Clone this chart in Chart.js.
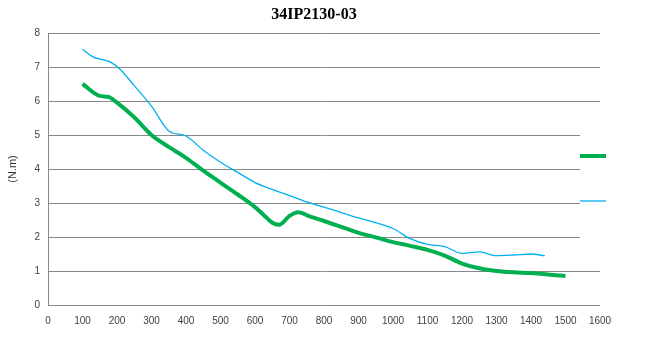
<!DOCTYPE html>
<html>
<head>
<meta charset="utf-8">
<script src="https://cdn.jsdelivr.net/npm/chart.js@4/dist/chart.umd.min.js"></script>
<style>
  html, body { margin: 0; padding: 0; background: #fff; }
  #wrap { width: 648px; height: 355px; }
</style>
</head>
<body>
<div id="wrap"><canvas id="myChart" width="648" height="355"></canvas></div>
<script>
// chart data
const chartTitle = '34IP2130-03';
const yTitle = '(N.m)';

const greenSpeed = [100, 150, 175, 200, 250, 300, 350, 400, 450, 500, 550, 600, 625, 650, 670, 700, 725, 760, 800, 850, 900, 950, 1000, 1050, 1100, 1150, 1200, 1250, 1300, 1350, 1400, 1450, 1500];
const greenTorque = [6.5, 6.15, 6.12, 5.95, 5.52, 5.0, 4.65, 4.33, 3.95, 3.6, 3.25, 2.88, 2.65, 2.42, 2.36, 2.62, 2.73, 2.6, 2.47, 2.3, 2.12, 1.99, 1.85, 1.74, 1.62, 1.45, 1.22, 1.08, 1.0, 0.96, 0.94, 0.9, 0.85];

const blueSpeed = [100, 130, 180, 210, 250, 300, 350, 400, 450, 500, 550, 600, 650, 700, 750, 800, 850, 900, 950, 1000, 1050, 1100, 1150, 1200, 1250, 1300, 1350, 1400, 1440];
const blueTorque = [7.52, 7.3, 7.15, 6.92, 6.45, 5.85, 5.12, 4.97, 4.55, 4.2, 3.9, 3.6, 3.4, 3.22, 3.03, 2.88, 2.72, 2.56, 2.42, 2.25, 1.95, 1.78, 1.72, 1.52, 1.56, 1.45, 1.47, 1.5, 1.45];

const xTicks = [0, 100, 200, 300, 400, 500, 600, 700, 800, 900, 1000, 1100, 1200, 1300, 1400, 1500, 1600];
const yTicks = [0, 1, 2, 3, 4, 5, 6, 7, 8];

const toPoints = (xs, ys) => xs.map((x, i) => ({ x: x, y: ys[i] }));

// title sits a bit left of centre in the original
const titlePlugin = {
  id: 'titlePlugin',
  afterDraw(chart) {
    const ctx = chart.ctx;
    ctx.save();
    ctx.font = 'bold 16px "Liberation Serif"';
    ctx.fillStyle = '#000';
    ctx.textAlign = 'center';
    ctx.textBaseline = 'middle';
    ctx.fillText(chartTitle, 314, 15);
    ctx.restore();
  }
};

// legend with no labels, just the two line swatches on a white box
const swatchLegend = {
  id: 'swatchLegend',
  afterDatasetsDraw(chart) {
    const ctx = chart.ctx;
    ctx.save();
    ctx.fillStyle = '#fff';
    ctx.fillRect(580, 118, 40, 134);
    const rows = [156, 201];
    chart.data.datasets.forEach((ds, i) => {
      ctx.strokeStyle = ds.borderColor;
      ctx.lineWidth = ds.borderWidth;
      ctx.beginPath();
      ctx.moveTo(580, rows[i]);
      ctx.lineTo(606, rows[i]);
      ctx.stroke();
    });
    ctx.restore();
  }
};

const ctx = document.getElementById('myChart').getContext('2d');
const myChart = new Chart(ctx, {
  type: 'line',
  data: {
    datasets: [{
      label: '',
      data: toPoints(greenSpeed, greenTorque),
      borderColor: '#00b050',
      borderWidth: 4,
      pointRadius: 0,
      cubicInterpolationMode: 'monotone'
    }, {
      label: '',
      data: toPoints(blueSpeed, blueTorque),
      borderColor: '#00b0f0',
      borderWidth: 1.3,
      pointRadius: 0,
      cubicInterpolationMode: 'monotone'
    }]
  },
  options: {
    responsive: false,
    animation: false,
    layout: { padding: { left: 0, right: 48, top: 33, bottom: 0 } },
    plugins: {
      legend: { display: false },
      title: { display: false },
      tooltip: { enabled: false }
    },
    scales: {
      x: {
        type: 'linear',
        min: 0,
        max: 1600,
        afterBuildTicks: s => { s.ticks = xTicks.map(v => ({ value: v })); },
        afterFit: s => { s.height = 50; },
        grid: { display: false, drawTicks: false },
        border: { display: false },
        ticks: {
          padding: 10,
          maxRotation: 0,
          autoSkip: false,
          color: '#404040',
          font: { family: 'Liberation Sans', size: 10 },
          callback: v => String(v)
        }
      },
      y: {
        min: 0,
        max: 8,
        afterBuildTicks: s => { s.ticks = yTicks.map(v => ({ value: v })); },
        afterFit: s => { s.width = 48; },
        grid: { color: '#888', lineWidth: 1, drawTicks: false },
        border: { display: true, color: '#888' },
        ticks: {
          padding: 8,
          color: '#404040',
          font: { family: 'Liberation Sans', size: 10 },
          callback: v => String(v)
        },
        title: {
          display: true,
          text: yTitle,
          color: '#333',
          padding: { top: 6, bottom: 0 },
          font: { family: 'Liberation Sans', size: 11 }
        }
      }
    }
  },
  plugins: [titlePlugin, swatchLegend]
});
</script>
</body>
</html>
